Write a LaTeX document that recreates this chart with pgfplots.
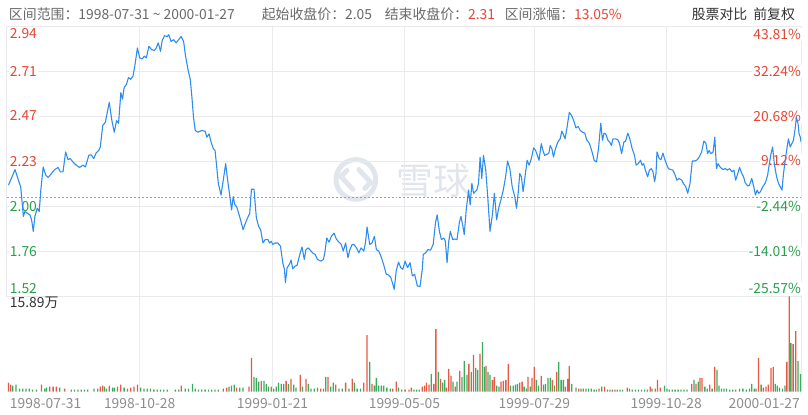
\documentclass[border=0pt]{standalone}
\usepackage{pgfplots}
\pgfplotsset{compat=1.18}
\usepackage{fontspec}
\setmainfont{Noto Sans CJK SC}
\definecolor{upred}{RGB}{230,70,52}
\definecolor{dngreen}{RGB}{40,160,75}
\definecolor{barred}{RGB}{232,88,70}
\definecolor{bargreen}{RGB}{60,170,90}
\definecolor{lineblue}{RGB}{45,140,240}
\definecolor{gridc}{RGB}{234,234,236}
\definecolor{wm}{RGB}{225,229,236}
\definecolor{txtgray}{RGB}{105,105,105}
\definecolor{dategray}{RGB}{140,140,140}
\definecolor{darktxt}{RGB}{50,50,50}
\begin{document}
\begin{tikzpicture}[font=\fontsize{14}{16}\selectfont]
\begin{scope}[x=1pt,y=1pt]
\path[use as bounding box] (0,0) rectangle (808,418);
% header
\node[anchor=west,inner sep=0,text=txtgray] at (2,404) {区间范围：1998-07-31 \textasciitilde\ 2000-01-27};
\node[anchor=west,inner sep=0,text=txtgray] at (257,404) {起始收盘价：2.05};
\node[anchor=west,inner sep=0,text=txtgray] at (381,404) {结束收盘价：\textcolor{upred}{2.31}};
\node[anchor=west,inner sep=0,text=txtgray] at (502,404) {区间涨幅：\textcolor{upred}{13.05\%}};
\node[anchor=east,inner sep=0,text=darktxt] at (795,404) {股票对比\hspace{6pt}前复权};
% watermark
\draw[wm,line width=5pt] (352,237) circle (20);
\draw[wm,line width=5pt,line cap=round,line join=round] (343,246) -- (337,240) -- (349,227);
\draw[wm,line width=5pt,line cap=round,line join=round] (361,228) -- (367,234) -- (355,247);
\node[text=wm,inner sep=0,font=\fontsize{37}{40}\selectfont] at (430,236) {雪球};
\end{scope}
% price panel (grid)
\begin{axis}[at={(0pt,119pt)},anchor=south west,scale only axis,width=801pt,height=272pt,
  xmin=0,xmax=801,ymin=1.5258,ymax=2.948,
  axis line style={draw=gridc,line width=0.8pt},
  xtick={134,268,401,532,665},ytick={1.7629,2.0,2.2371,2.4741,2.7111},
  xticklabels={},yticklabels={},major tick length=0pt,
  grid=major,grid style={draw=gridc,line width=0.8pt}]
\addplot[draw=gray!75,line width=0.6pt,dash pattern=on 2pt off 2pt] coordinates {(0,2.05) (801,2.05)};
\end{axis}
% left/right labels
\begin{scope}[x=1pt,y=1pt,every node/.style={inner sep=1pt,fill=white}]
\node[anchor=west,text=upred] at (2,384.5) {2.94};
\node[anchor=west,text=upred] at (2,346) {2.71};
\node[anchor=west,text=upred] at (2,301) {2.47};
\node[anchor=west,text=upred] at (2,255.5) {2.23};
\node[anchor=west,text=dngreen] at (2,210) {2.00};
\node[anchor=west,text=dngreen] at (2,164) {1.76};
\node[anchor=west,text=dngreen] at (2,127) {1.52};
\node[anchor=east,text=upred] at (802,383) {43.81\%};
\node[anchor=east,text=upred] at (802,346) {32.24\%};
\node[anchor=east,text=upred] at (802,300.5) {20.68\%};
\node[anchor=east,text=upred] at (802,256) {9.12\%};
\node[anchor=east,text=dngreen] at (802,210) {-2.44\%};
\node[anchor=east,text=dngreen] at (802,164) {-14.01\%};
\node[anchor=east,text=dngreen] at (802,127) {-25.57\%};
\end{scope}
\begin{axis}[at={(0pt,119pt)},anchor=south west,scale only axis,width=801pt,height=272pt,
  xmin=0,xmax=801,ymin=1.5258,ymax=2.948,axis lines=none]
\addplot[lineblue,line width=1.1pt,line join=round] coordinates {
(1.7,2.113)(8.3,2.195)(11.7,2.139)(14,2.104)(16.7,1.948)(18.3,1.974)(20.7,1.965)(23.3,1.956)(25,1.930)(26.7,1.869)
(28.3,1.948)(30.7,1.991)(32.7,1.974)(34.3,2.087)(36.7,2.209)(39.3,2.166)(41.7,2.153)(45,2.174)(48.3,2.195)(51.7,2.206)
(54,2.183)(56.7,2.183)(59.3,2.288)(61.7,2.247)(64,2.253)(66.7,2.235)(70,2.218)(73.3,2.206)(76.7,2.218)(79.3,2.209)
(82.7,2.270)(85,2.273)(87.7,2.253)(90,2.282)(92.7,2.296)(94.3,2.314)(96.7,2.427)(99.3,2.444)(101,2.488)(103.3,2.549)
(106,2.453)(108.3,2.392)(110.7,2.453)(112.7,2.439)(115,2.601)(116.7,2.566)(118.3,2.627)(120.7,2.645)(122.7,2.680)(125,2.671)
(127.3,2.688)(129.3,2.749)(131.7,2.836)(134,2.784)(136.7,2.779)(138.7,2.793)(140.7,2.784)(143.3,2.845)(146,2.828)(148.7,2.823)
(150.7,2.836)(152.7,2.863)(155,2.819)(156.7,2.875)(159,2.901)(161.7,2.897)(163.3,2.906)(165.7,2.871)(168.3,2.880)(170.7,2.863)
(173.3,2.880)(175.7,2.897)(178.3,2.871)(180,2.802)(182.7,2.723)(185,2.671)(186.7,2.575)(188.3,2.470)(190,2.401)(192.7,2.392)
(196.7,2.401)(200,2.397)(201.7,2.366)(204,2.383)(206,2.340)(208.3,2.305)(210,2.296)(211.7,2.209)(213.3,2.122)(216,2.061)
(218.3,2.139)(220.7,2.226)(222.7,2.139)(225,2.052)(226.7,1.982)(228.3,2.052)(230,2.009)(231.7,2.000)(233.3,1.974)(235.7,1.930)
(238.3,1.878)(240.7,1.913)(242.7,1.939)(245,1.965)(246.7,2.091)(249.3,2.091)(251.7,1.939)(254,1.895)(256,1.878)(258.3,1.808)
(260.7,1.826)(263.3,1.826)(265,1.808)(266.7,1.817)(268.3,1.800)(270.7,1.808)(273.3,1.808)(276,1.791)(278.3,1.704)(280,1.669)
(281,1.599)(282.7,1.678)(285,1.695)(286.7,1.718)(288.3,1.672)(290.7,1.686)(292.7,1.690)(295,1.738)(297.7,1.787)(300,1.721)
(301.7,1.773)(304,1.782)(306,1.770)(308.3,1.756)(311,1.747)(313.3,1.721)(316.7,1.712)(319.3,1.721)(320.7,1.756)(322.7,1.834)
(325,1.812)(327.3,1.843)(330,1.860)(332.3,1.829)(335,1.812)(337.3,1.800)(339.3,1.765)(341.7,1.808)(344,1.730)(346,1.773)
(348.3,1.800)(350,1.800)(352.7,1.782)(355,1.756)(357.3,1.782)(360,1.765)(361.7,1.808)(363.3,1.892)(366,1.800)(368.3,1.808)
(370.7,1.843)(372.7,1.773)(375,1.765)(377.3,1.738)(380,1.695)(382.7,1.643)(385,1.639)(387.3,1.625)(389.3,1.590)(390.7,1.564)
(392.7,1.660)(395,1.707)(397.3,1.678)(399.3,1.669)(401.7,1.712)(404,1.678)(406.7,1.704)(409,1.634)(411.3,1.643)(414,1.582)
(416.7,1.578)(419,1.669)(420,1.747)(422.3,1.756)(424.7,1.773)(427.3,1.770)(430,1.800)(432.3,1.913)(434,1.956)(436.3,1.869)
(438.3,1.826)(440.7,1.834)(442.3,1.817)(444,1.704)(445.7,1.817)(447.3,1.869)(449.7,1.826)(451.3,1.829)(454,1.826)(456.3,1.913)
(458,1.948)(459.7,1.904)(461.3,1.852)(463.3,1.982)(465.7,2.087)(467.3,2.009)(469,2.122)(470.7,2.070)(472.3,2.078)(474,2.087)
(475.7,2.122)(477.3,2.261)(479,2.148)(480.7,2.270)(483,2.192)(485,2.052)(487.3,1.869)(489.7,1.956)(491.7,2.070)(494,1.930)
(496,1.991)(498.3,2.035)(500.7,2.087)(503,2.157)(505,2.240)(507.3,2.200)(509.7,2.104)(512.3,2.052)(514,1.991)(515.7,2.070)
(517.3,2.174)(519,2.157)(520.7,2.078)(523,2.174)(524.7,2.244)(526.7,2.218)(529,2.253)(531.3,2.310)(533.3,2.296)(535,2.270)
(536.7,2.244)(539,2.331)(540.7,2.296)(542.3,2.270)(544.7,2.275)(546.7,2.282)(548,2.322)(549.7,2.305)(551.3,2.261)(553.3,2.305)
(555.7,2.340)(558,2.357)(559.7,2.397)(561.3,2.380)(563,2.357)(565,2.418)(567.3,2.497)(569.7,2.479)(571.7,2.453)(574,2.415)
(576.3,2.422)(578.3,2.401)(580.7,2.392)(583,2.387)(584.7,2.352)(586.7,2.340)(588.3,2.322)(590.7,2.279)(592.3,2.244)(594.7,2.235)
(596.7,2.305)(599,2.439)(600.7,2.349)(602.3,2.387)(604,2.383)(606.3,2.349)(608,2.340)(609.7,2.322)(611.3,2.357)(614,2.357)
(616.3,2.352)(618,2.331)(620,2.279)(622.3,2.340)(624,2.345)(626.3,2.387)(628.3,2.357)(630.7,2.305)(633,2.270)(634.7,2.218)
(636.7,2.226)(639,2.244)(640.7,2.218)(642.3,2.226)(644,2.192)(646.3,2.157)(648,2.192)(650,2.200)(651.7,2.183)(653.3,2.131)
(654.7,2.174)(655.7,2.288)(658,2.253)(659.7,2.247)(661.7,2.282)(663.3,2.253)(665.7,2.218)(667.3,2.200)(669.7,2.195)(671.7,2.192)
(674,2.166)(675.7,2.139)(678,2.148)(680.7,2.139)(682.3,2.122)(684.7,2.104)(686.7,2.070)(689,2.122)(691.3,2.240)(694,2.240)
(696.3,2.247)(698.3,2.261)(700.7,2.288)(703,2.345)(705,2.335)(706.7,2.279)(708.3,2.296)(710,2.279)(712.3,2.288)(714,2.366)
(715.7,2.200)(717.3,2.226)(719.7,2.206)(722.3,2.195)(724.7,2.200)(726.7,2.192)(729,2.200)(731.3,2.183)(733.3,2.192)(735,2.139)
(736.7,2.166)(739,2.206)(741.3,2.174)(743,2.157)(744.7,2.125)(747.3,2.108)(749,2.113)(751.3,2.148)(753.3,2.104)(755,2.061)
(756.7,2.087)(758.3,2.070)(760,2.078)(762.3,2.104)(765,2.125)(767.3,2.166)(769,2.226)(770.7,2.279)(772.3,2.314)(774,2.226)
(776.3,2.157)(778.3,2.122)(780,2.104)(781.7,2.087)(783.3,2.174)(785,2.244)(786.7,2.305)(788.3,2.357)(790,2.314)(791.7,2.331)
(793.3,2.349)(795,2.410)(796.3,2.470)(798,2.436)(799,2.383)(800.2,2.366)(801,2.340)
};
\end{axis}
% volume panel
\begin{axis}[at={(0pt,23pt)},anchor=south west,scale only axis,width=801pt,height=96pt,
  xmin=0,xmax=801,ymin=0,ymax=15.89,
  axis line style={draw=none},
  xtick={134,268,401,532,665,801},ytick=\empty,xticklabels={},major tick length=0pt,
  xmajorgrids,grid style={draw=gridc,line width=0.8pt},
  ybar,bar width=1.3pt,bar shift=0pt]
\addplot[fill=barred,draw=none] coordinates {
(1.7,1.49)(4,1.16)(35,1.16)(43.3,0.83)(46.7,0.83)(50,0.83)(58.3,0.50)(81.7,0.33)(94.3,0.83)(96.7,0.99)
(103.3,0.99)(111.7,0.83)(115,1.16)(121.7,0.50)(125,0.66)(128.3,0.83)(131.7,1.16)(176,0.99)(218.3,0.50)(221.7,0.66)
(231.7,0.66)(244.3,0.83)(246.7,5.63)(256.7,1.82)(266.7,0.83)(281.7,1.82)(286.7,2.15)(296,2.81)(301.7,2.15)(316.7,0.50)
(324,2.48)(331.7,1.16)(341.7,1.49)(348.3,2.15)(360,1.49)(363.3,9.43)(368.3,1.32)(389.3,0.50)(392.7,1.66)(401.7,0.33)
(405.7,0.33)(408,0.66)(419,0.83)(421.3,0.99)(423.3,1.49)(425.7,1.16)(430.7,1.32)(432.7,10.43)(437.3,2.15)(443.3,0.66)
(445.7,3.81)(448,2.65)(452.3,0.83)(456.7,3.48)(466,4.63)(470.7,6.12)(477.3,6.29)(483.3,4.30)(489.7,1.99)(491.7,2.48)
(498.3,1.66)(500.7,1.82)(503.3,1.99)(505.7,4.63)(517.3,1.49)(519.7,1.66)(525.7,2.48)(529.7,2.32)(532,4.14)(539,2.65)
(550,1.99)(554.7,3.31)(563.3,0.83)(565.7,2.15)(567.3,4.30)(576.7,0.50)(581.3,0.50)(597.3,0.50)(602.7,0.83)(605.7,0.33)
(610.7,0.33)(615.7,0.33)(625.7,0.66)(649,0.83)(654,0.50)(656.3,1.99)(659,0.66)(690.7,1.32)(695,1.32)(699,2.32)
(701,2.32)(709,1.16)(714,4.14)(739,0.50)(755.5,0.50)(758,5.63)(763,0.66)(765.7,0.83)(768,1.16)(770.7,3.97)
(773,4.14)(786.7,4.97)(789,15.89)(793,7.94)(795.7,10.10)
};
\addplot[fill=bargreen,draw=none] coordinates {
(6,0.99)(9.3,1.16)(12.7,0.50)(16,0.50)(19.3,0.50)(22.7,0.50)(26,0.33)(30,0.33)(38.3,0.50)(40,0.66)
(53.3,0.66)(65,0.33)(68.3,0.33)(71.7,0.33)(75,0.33)(78.3,0.33)(88,0.50)(91.7,0.50)(98.5,0.83)(100.5,0.50)
(106.7,0.66)(108.7,0.66)(118.3,0.66)(135,0.66)(138.3,0.50)(141.7,0.50)(145,0.50)(148.3,0.33)(151.7,0.33)(155,0.33)
(158.3,0.33)(161.7,0.33)(170,0.33)(173.3,0.33)(180,0.50)(183.3,0.50)(187.3,1.32)(190,0.50)(193.3,0.33)(196.7,0.33)
(200,0.33)(203.3,0.33)(206.7,0.33)(210,0.33)(213.3,0.33)(224,0.83)(226.7,0.99)(229.3,1.16)(235,0.66)(238.3,0.66)
(249.3,2.48)(251.7,2.32)(254,1.66)(259.3,1.82)(261.7,1.32)(264,0.83)(269.3,0.50)(271.7,0.83)(274,1.49)(276.7,1.32)
(279.3,1.32)(284,1.32)(289.3,1.16)(291.7,0.66)(298.3,0.83)(304,1.32)(306.7,0.50)(310,0.50)(313.3,0.66)(319.3,0.50)
(321.7,2.48)(326.7,0.83)(329.3,1.49)(335,0.50)(338.3,0.50)(345,0.50)(350.7,1.49)(353.3,0.50)(356.7,0.50)(366,4.97)
(370.7,0.99)(372.7,2.32)(375,0.99)(377.7,0.99)(380,0.99)(383.3,0.66)(386.7,0.50)(395,0.66)(398.3,0.33)
(410.7,0.33)(413.3,0.33)(416,0.33)(428,2.98)(435,3.31)(439.7,1.49)(441.7,1.99)(450,1.66)(454,1.66)(459,2.48)
(461.3,5.13)(464,2.81)(468.3,3.31)(473,3.97)(475,3.64)(479.7,8.28)(481.7,4.14)(485.3,3.31)(487.3,2.81)(494,0.99)
(496.3,0.83)(508,0.99)(510.7,0.99)(513,1.16)(515,1.32)(521.7,0.83)(524,0.50)(528,0.83)(534,1.99)(536.3,0.99)
(541.3,1.16)(543.3,1.32)(545.7,2.32)(548,2.32)(552.3,0.99)(556.7,4.97)(559,1.99)(561.3,1.99)(569.7,1.32)(574,0.66)
(579,0.50)(584,0.50)(586.7,0.50)(589.3,0.50)(592.3,0.33)(594.7,0.33)(600,0.83)(608.3,0.33)(613.3,0.33)(618.3,0.33)
(621,0.33)(628,0.50)(630.7,0.33)(634,0.33)(637,0.33)(640,0.33)(643,0.33)(646,0.33)(650.7,0.50)(663.3,0.99)
(665.7,0.50)(668,0.33)(671,0.33)(674,0.33)(677,0.33)(680,0.33)(683,0.33)(686,0.33)(693,1.99)(697.3,1.66)
(704,0.83)(706.3,0.50)(711.3,0.50)(716.3,3.64)(718.3,0.99)(720.7,0.50)(723.3,0.50)(725.7,0.50)(729,0.33)(732,0.33)
(735,0.33)(742.3,0.50)(745.7,0.33)(749,0.50)(751.3,1.32)(753.7,0.50)(760.7,1.16)(775,1.32)(777,0.99)(779.3,0.66)
(782.3,0.50)(784.7,0.99)(790.7,8.11)(798,5.13)(800.5,2.98)
};
\end{axis}
\begin{scope}[x=1pt,y=1pt]
\node[anchor=west,inner sep=0,text=darktxt] at (3,113) {15.89万};
% date labels
\begin{scope}[every node/.style={inner sep=0,text=dategray}]
\node[anchor=west] at (3,11) {1998-07-31};
\node at (134,11) {1998-10-28};
\node at (268,11) {1999-01-21};
\node at (401,11) {1999-05-05};
\node at (532,11) {1999-07-29};
\node at (665,11) {1999-10-28};
\node[anchor=east] at (800,11) {2000-01-27};
\end{scope}
\end{scope}
\end{tikzpicture}
\end{document}
